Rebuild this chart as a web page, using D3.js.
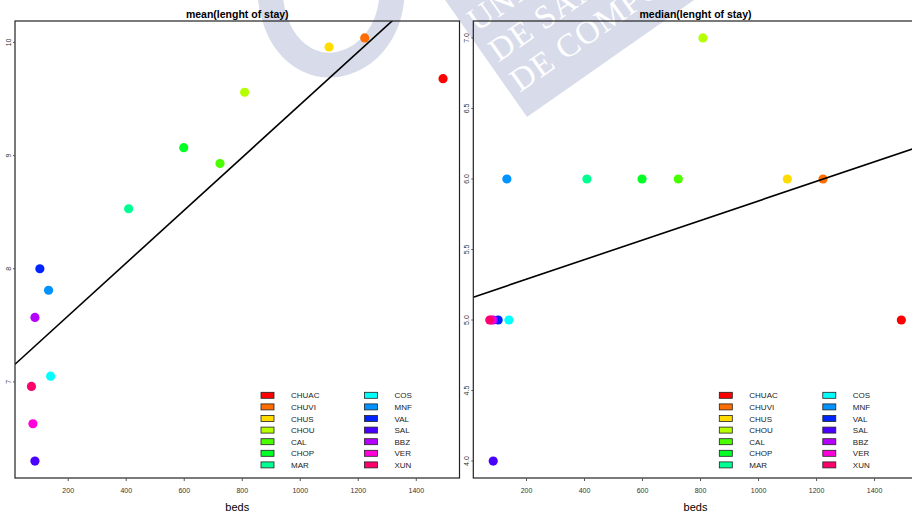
<!DOCTYPE html>
<html>
<head>
<meta charset="utf-8">
<script src="https://cdn.jsdelivr.net/npm/d3@7"></script>
<style>
  body { margin: 0; background: #fff; overflow: hidden; }
  svg { display: block; font-family: "Liberation Sans", Arial, sans-serif; }
</style>
</head>
<body>
<div id="chart"></div>
<script>
// Hospitals, beds and length of stay
const hospitals = ["CHUAC", "CHUVI", "CHUS", "CHOU", "CAL", "CHOP", "MAR",
                   "COS", "MNF", "VAL", "SAL", "BBZ", "VER", "XUN"];
const beds = [1494, 1224, 1101, 810, 725, 600, 410, 141, 134, 104, 87, 87, 80, 75];
const meanStay = [9.68, 10.04, 9.96, 9.56, 8.93, 9.07, 8.53, 7.05, 7.81, 8.0, 6.30, 7.57, 6.63, 6.96];
const medianStay = [5, 6, 6, 7, 6, 6, 6, 5, 6, 5, 4, 5, 5, 5];

// Tick values
const xTicks = [200, 400, 600, 800, 1000, 1200, 1400];
const meanTicks = [7, 8, 9, 10];
const medianTicks = [4.0, 4.5, 5.0, 5.5, 6.0, 6.5, 7.0];

const W = 912, H = 512;
const plotTop = 21, plotBottom = 478;

// rainbow palette like R's rainbow(n)
const colors = hospitals.map((d, i) => d3.hsl(i * 360 / hospitals.length, 1, 0.5).formatHex());

const svg = d3.select("#chart")
    .append("svg")
    .attr("width", W)
    .attr("height", H);

svg.append("rect").attr("width", W).attr("height", H).attr("fill", "#fff");

// Faint watermark behind the plots
const wm = svg.append("g").attr("class", "watermark");
wm.append("path")
    .attr("d", "M270,-5 C276,52 312,70 340,64 C370,57 390,30 392,-5")
    .attr("fill", "none")
    .attr("stroke", "#d8dcea")
    .attr("stroke-width", 25);
const banner = wm.append("g").attr("transform", "translate(527,117) rotate(-35)");
banner.append("rect")
    .attr("x", 0).attr("y", -260)
    .attr("width", 420).attr("height", 260)
    .attr("fill", "#d8dcea");
["DE COMPOSTELA", "DE SANTIAGO", "UNIVERSIDADE"].forEach((t, i) => {
    banner.append("text")
        .attr("x", 8)
        .attr("y", -24 - i * 37)
        .attr("fill", "#fff")
        .attr("font-family", "'Liberation Serif', 'DejaVu Serif', serif")
        .attr("font-size", 33)
        .attr("letter-spacing", 1)
        .text(t);
});

// R style padded extent (4% each side)
function padded(values) {
    const [lo, hi] = d3.extent(values);
    const r = hi - lo;
    return [lo - 0.04 * r, hi + 0.04 * r];
}

// Least squares fit
function fit(xs, ys) {
    const mx = d3.mean(xs), my = d3.mean(ys);
    let sxy = 0, sxx = 0;
    xs.forEach((x, i) => {
        sxy += (x - mx) * (ys[i] - my);
        sxx += (x - mx) * (x - mx);
    });
    const b = sxy / sxx;
    return { a: my - b * mx, b: b };
}

function drawPanel(id, left, right, values, title, yTicks, yFormat) {
    const g = svg.append("g").attr("class", "panel");

    const x = d3.scaleLinear().domain(padded(beds)).range([left, right]);
    const y = d3.scaleLinear().domain(padded(values)).range([plotBottom, plotTop]);

    svg.append("clipPath").attr("id", id)
        .append("rect")
        .attr("x", left).attr("y", plotTop)
        .attr("width", right - left).attr("height", plotBottom - plotTop);

    // Points
    g.selectAll(".dot")
        .data(hospitals)
        .enter()
        .append("circle")
        .attr("class", "dot")
        .attr("cx", (d, i) => x(beds[i]))
        .attr("cy", (d, i) => y(values[i]))
        .attr("r", 4.6)
        .attr("fill", (d, i) => colors[i]);

    // Regression line
    const lm = fit(beds, values);
    const [d0, d1] = x.domain();
    g.append("line")
        .attr("clip-path", `url(#${id})`)
        .attr("x1", x(d0)).attr("y1", y(lm.a + lm.b * d0))
        .attr("x2", x(d1)).attr("y2", y(lm.a + lm.b * d1))
        .attr("stroke", "#000")
        .attr("stroke-width", 1.6);

    // Box
    g.append("rect")
        .attr("x", left).attr("y", plotTop)
        .attr("width", right - left).attr("height", plotBottom - plotTop)
        .attr("fill", "none")
        .attr("stroke", "#222")
        .attr("stroke-width", 1.2);

    // X axis ticks and labels
    const xAxis = g.append("g")
        .attr("transform", `translate(0,${plotBottom})`)
        .call(d3.axisBottom(x)
            .tickValues(xTicks)
            .tickFormat(d3.format("d"))
            .tickSize(3)
            .tickPadding(7));
    xAxis.select(".domain").remove();
    xAxis.selectAll("line").attr("stroke", "#555");
    xAxis.selectAll("text")
        .attr("font-size", 7)
        .attr("fill", "#333")
        .attr("font-family", "'Liberation Sans', Arial, sans-serif");

    // Y axis ticks and labels (rotated, R style)
    const yAxis = g.append("g");
    yAxis.selectAll("line")
        .data(yTicks)
        .enter()
        .append("line")
        .attr("x1", left - 2).attr("x2", left)
        .attr("y1", d => y(d)).attr("y2", d => y(d))
        .attr("stroke", "#555");
    yAxis.selectAll("text")
        .data(yTicks)
        .enter()
        .append("text")
        .attr("transform", d => `translate(${left - 4.3},${y(d)}) rotate(-90)`)
        .attr("text-anchor", "middle")
        .attr("font-size", 7)
        .attr("fill", "#333")
        .text(yFormat);

    // Title
    g.append("text")
        .attr("x", (left + right) / 2)
        .attr("y", 18.3)
        .attr("text-anchor", "middle")
        .attr("font-size", 10.5)
        .attr("font-weight", "bold")
        .text(title);

    // X axis title
    g.append("text")
        .attr("x", (left + right) / 2)
        .attr("y", 510.5)
        .attr("text-anchor", "middle")
        .attr("font-size", 11)
        .text("beds");

    // Legend, two columns
    const legend = g.append("g").attr("transform", `translate(${left},0)`);
    const rowY = i => 395.3 + i * 11.6;
    hospitals.forEach((name, i) => {
        const col = Math.floor(i / 7), row = i % 7;
        const lx = col === 0 ? 246 : 349.5;
        legend.append("rect")
            .attr("x", lx).attr("y", rowY(row) - 3)
            .attr("width", 13).attr("height", 6)
            .attr("fill", colors[i])
            .attr("stroke", "#222")
            .attr("stroke-width", 0.8);
        legend.append("text")
            .attr("x", lx + 30)
            .attr("y", rowY(row) + 3)
            .attr("font-size", 8)
            .attr("fill", "#222")
            .text(name);
    });
}

drawPanel("clipMean", 15, 459.5, meanStay, "mean(lenght of stay)", meanTicks, d => d3.format("d")(d));
drawPanel("clipMedian", 473.3, 917.8, medianStay, "median(lenght of stay)", medianTicks, d => d3.format(".1f")(d));
</script>
</body>
</html>
